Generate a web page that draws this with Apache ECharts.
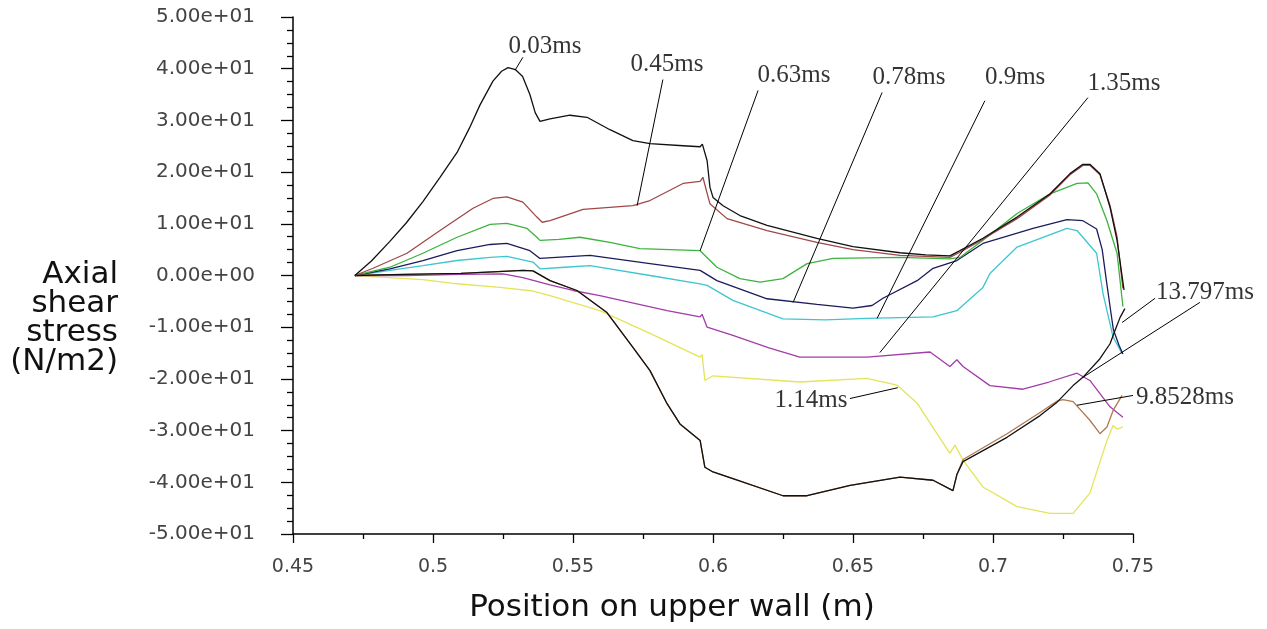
<!DOCTYPE html>
<html><head><meta charset="utf-8">
<script src="https://cdn.jsdelivr.net/npm/echarts@6/dist/echarts.min.js"></script>
<style>html,body{margin:0;background:#fff}#c{width:1267px;height:629px}</style>
</head><body><div id="c"></div>
<script>
// ---- data (x in m, y in N/m2) ----
const s003 = [[0.4721,0],[0.4780,2.8],[0.4846,6.6],[0.4905,10.2],[0.4964,14.3],[0.5025,19.0],[0.5086,23.8],[0.5130,28.5],[0.5168,33.0],[0.5214,37.6],[0.5245,39.5],[0.5268,40.2],[0.5295,39.8],[0.5320,38.5],[0.5346,35.0],[0.5365,31.5],[0.5382,29.8],[0.5418,30.3],[0.5489,31.0],[0.5550,30.6],[0.5632,28.2],[0.5714,26.1],[0.5775,25.5],[0.5893,25.1],[0.5954,24.9],[0.5962,25.4],[0.5979,22.2],[0.5989,17.1],[0.6000,15.1],[0.6036,13.5],[0.6096,11.6],[0.6193,9.7],[0.6371,7.2],[0.6500,5.6],[0.6668,4.4],[0.6760,4.0],[0.6846,3.8],[0.6882,4.8],[0.6964,7.2],[0.7086,11.3],[0.7204,15.8],[0.7275,19.7],[0.7321,21.5],[0.7346,21.5],[0.7382,19.7],[0.7418,13.2],[0.7443,6.8],[0.7468,-2.8]];
const s045 = [[0.4721,0],[0.4786,1.4],[0.4907,4.3],[0.5025,8.7],[0.5143,13.0],[0.5214,14.9],[0.5264,15.2],[0.5321,14.2],[0.5371,11.3],[0.5390,10.3],[0.5418,10.6],[0.5536,12.8],[0.5714,13.5],[0.5775,14.5],[0.5893,17.8],[0.5954,18.2],[0.5964,19.0],[0.5979,15.9],[0.5989,13.9],[0.6050,11.0],[0.6193,8.7],[0.6371,6.4],[0.6500,5.0],[0.6668,3.9],[0.6846,3.5],[0.6882,4.5],[0.6964,7.0],[0.7086,11.0],[0.7204,15.6],[0.7275,19.5],[0.7321,21.3],[0.7346,21.3],[0.7382,19.5],[0.7418,13.5],[0.7443,7.5],[0.7464,-2.5]];
const s063 = [[0.4721,0],[0.4846,1.6],[0.4964,4.3],[0.5086,7.4],[0.5204,9.9],[0.5264,10.1],[0.5336,9.1],[0.5371,7.4],[0.5382,6.8],[0.5450,7.0],[0.5525,7.4],[0.5632,6.4],[0.5739,5.2],[0.5954,4.8],[0.6014,1.6],[0.6096,-0.6],[0.6168,-1.3],[0.6250,-0.6],[0.6336,2.3],[0.6429,3.3],[0.6668,3.5],[0.6846,3.2],[0.6882,3.5],[0.6964,6.8],[0.7086,12.0],[0.7204,15.8],[0.7300,17.8],[0.7339,17.9],[0.7370,15.8],[0.7407,10.6],[0.7443,4.3],[0.7464,-6.0]];
const s078 = [[0.4721,0],[0.4846,1.3],[0.4964,2.9],[0.5086,4.8],[0.5204,6.0],[0.5264,6.2],[0.5346,4.8],[0.5382,3.3],[0.5470,3.6],[0.5561,3.9],[0.5775,2.3],[0.5954,1.0],[0.6014,-1.0],[0.6193,-4.5],[0.6371,-5.6],[0.6500,-6.3],[0.6568,-5.8],[0.6607,-4.4],[0.6729,-1.0],[0.6786,1.4],[0.6871,2.9],[0.6964,6.2],[0.7143,9.1],[0.7264,10.8],[0.7321,10.6],[0.7370,9.0],[0.7390,5.0],[0.7405,-1.0],[0.7418,-6.0],[0.7430,-10.5],[0.7450,-13.5],[0.7464,-15.2]];
const s090 = [[0.4721,0],[0.4846,1.0],[0.4964,1.9],[0.5086,2.9],[0.5204,3.5],[0.5264,3.7],[0.5357,2.6],[0.5382,1.3],[0.5470,1.6],[0.5561,1.9],[0.5775,0],[0.5954,-1.6],[0.5979,-1.9],[0.6071,-4.8],[0.6250,-8.4],[0.6400,-8.6],[0.6550,-8.3],[0.6786,-8.0],[0.6871,-6.8],[0.6964,-2.3],[0.6989,0.4],[0.7086,5.5],[0.7264,9.1],[0.7300,8.7],[0.7370,4.3],[0.7393,-3.5],[0.7407,-6.8],[0.7429,-11.9],[0.7461,-15.1]];
const s135 = [[0.4721,0],[0.4900,0],[0.5100,0.2],[0.5250,0.3],[0.5321,-0.4],[0.5418,-1.8],[0.5500,-2.9],[0.5596,-3.9],[0.5836,-6.8],[0.5954,-8.0],[0.5961,-7.5],[0.5979,-10.0],[0.6071,-11.6],[0.6200,-14.0],[0.6310,-15.8],[0.6550,-15.8],[0.6775,-14.8],[0.6846,-17.6],[0.6871,-16.3],[0.6893,-17.6],[0.6989,-21.3],[0.7107,-22.0],[0.7200,-20.6],[0.7300,-18.9],[0.7346,-20.3],[0.7418,-25.4],[0.7464,-27.4]];
const s114 = [[0.4721,0],[0.4811,-0.3],[0.4964,-0.8],[0.5086,-1.6],[0.5239,-2.3],[0.5357,-3.0],[0.5418,-3.9],[0.5596,-6.8],[0.5775,-11.2],[0.5954,-15.8],[0.5961,-15.3],[0.5971,-20.3],[0.6000,-19.4],[0.6310,-20.6],[0.6550,-19.9],[0.6657,-21.2],[0.6729,-24.7],[0.6846,-34.4],[0.6864,-32.8],[0.6893,-35.7],[0.6964,-40.9],[0.7086,-44.7],[0.7204,-46.0],[0.7286,-46.0],[0.7346,-42.1],[0.7407,-31.9],[0.7429,-29.0],[0.7443,-29.7],[0.7464,-29.3]];
const s98528 = [[0.4721,0],[0.4900,0.2],[0.5100,0.4],[0.5250,0.8],[0.5321,1.0],[0.5357,0.9],[0.5418,-1.0],[0.5514,-2.9],[0.5620,-7.1],[0.5714,-13.9],[0.5775,-18.4],[0.5836,-24.8],[0.5882,-28.7],[0.5954,-31.9],[0.5971,-37.1],[0.6000,-38.0],[0.6071,-39.3],[0.6250,-42.6],[0.6336,-42.6],[0.6490,-40.6],[0.6668,-39.0],[0.6786,-39.6],[0.6857,-41.6],[0.6871,-38.5],[0.6893,-35.6],[0.7050,-30.6],[0.7168,-26.5],[0.7229,-24.3],[0.7250,-24.0],[0.7286,-24.4],[0.7346,-28.0],[0.7382,-30.6],[0.7407,-29.3],[0.7429,-26.1],[0.7461,-23.2]];
const s13797 = [[0.4721,0],[0.4900,0.2],[0.5100,0.4],[0.5250,0.8],[0.5321,1.0],[0.5357,0.9],[0.5418,-1.0],[0.5514,-2.9],[0.5620,-7.1],[0.5714,-13.9],[0.5775,-18.4],[0.5836,-24.8],[0.5882,-28.7],[0.5954,-31.9],[0.5971,-37.1],[0.6000,-38.0],[0.6071,-39.3],[0.6250,-42.6],[0.6336,-42.6],[0.6490,-40.6],[0.6668,-39.0],[0.6786,-39.6],[0.6857,-41.6],[0.6871,-38.5],[0.6893,-36.0],[0.7050,-31.3],[0.7168,-27.1],[0.7229,-24.5],[0.7286,-21.3],[0.7321,-19.7],[0.7382,-16.1],[0.7418,-13.2],[0.7436,-10.6],[0.7454,-8.1],[0.7471,-6.4]];

// annotation labels and pointer lines (data coordinates)
const annNames = ['0.03ms','0.45ms','0.63ms','0.78ms','0.9ms','1.35ms','1.14ms','9.8528ms','13.797ms'];
const annPos = [[0.5400,44.3],[0.5836,40.8],[0.6289,38.7],[0.6700,38.3],[0.7079,38.3],[0.7468,37.1],[0.6350,-24.2],[0.7686,-23.6],[0.7757,-3.3]];
const pointers = [
  [[0.5321,42.2],[0.5293,39.7]],
  [[0.5821,37.9],[0.5729,13.5]],
  [[0.6161,35.8],[0.5954,4.8]],
  [[0.6604,35.4],[0.6286,-5.2]],
  [[0.6971,33.8],[0.6586,-8.3]],
  [[0.7339,34.4],[0.6596,-14.9]],
  [[0.6489,-23.8],[0.6660,-21.7]],
  [[0.7500,-23.2],[0.7300,-25.1]],
  [[0.7579,-4.4],[0.7461,-9.1]],
  [[0.7739,-5.2],[0.7321,-19.7]]
];

const seriesDefs = [
  ['1.14ms', s114, '#e4e45a'],
  ['1.35ms', s135, '#a23ca8'],
  ['0.9ms', s090, '#3cc6d0'],
  ['0.78ms', s078, '#1c1c5c'],
  ['0.63ms', s063, '#3cb43c'],
  ['9.8528ms', s98528, '#b07850'],
  ['13.797ms', s13797, '#111111'],
  ['0.45ms', s045, '#a04848'],
  ['0.03ms', s003, '#111111']
];

function fmtExp(v){
  const s = Number(v).toExponential(2);
  return s.replace(/e([+-])(\d+)$/, function(m, sg, d){ return 'e' + sg + (d.length < 2 ? '0' + d : d); });
}

const chart = echarts.init(document.getElementById('c'), null, {renderer:'canvas'});
const series = seriesDefs.map(function(d){
  return {type:'line', name:d[0], data:d[1], showSymbol:false, symbol:'none', smooth:false,
    lineStyle:{color:d[2], width:1.3}, itemStyle:{color:d[2]}, z:2, animation:false};
});
series.push({
  type:'lines', coordinateSystem:'cartesian2d', clip:false, z:3, animation:false,
  lineStyle:{color:'#000', width:1, opacity:1},
  data: pointers.map(function(p){ return {coords:p}; })
});
series.push({
  type:'scatter', clip:false, symbolSize:0, z:4, animation:false,
  data: annNames.map(function(n,i){ return {name:n, value:annPos[i]}; }),
  label:{show:true, position:'inside', formatter:'{b}', color:'#000',
    fontFamily:'Liberation Serif', fontSize:25}
});

chart.setOption({
  backgroundColor:'#fff',
  animation:false,
  grid:{left:293, right:134, top:17, bottom:95, containLabel:false},
  xAxis:{type:'value', min:0.45, max:0.75, interval:0.05,
    axisLine:{show:true, onZero:false, lineStyle:{color:'#000', width:1.5}},
    axisTick:{show:true, inside:false, length:9, lineStyle:{color:'#000', width:1.3}},
    minorTick:{show:true, splitNumber:2, length:5, lineStyle:{color:'#000', width:1.3}},
    splitLine:{show:false}, minorSplitLine:{show:false},
    axisLabel:{margin:24, fontFamily:'DejaVu Sans', fontSize:19, color:'#444',
      formatter:function(v){ return String(+v.toFixed(2)); }}
  },
  yAxis:{type:'value', min:-50, max:50, interval:10,
    axisLine:{show:true, onZero:false, lineStyle:{color:'#000', width:1.5}},
    axisTick:{show:true, inside:false, length:12, lineStyle:{color:'#000', width:1.3}},
    minorTick:{show:true, splitNumber:4, length:6, lineStyle:{color:'#000', width:1.3}},
    splitLine:{show:false}, minorSplitLine:{show:false},
    axisLabel:{margin:38, fontFamily:'DejaVu Sans', fontSize:20, color:'#444', formatter:fmtExp}
  },
  graphic:[
    {type:'text', x:118, y:318, style:{text:'Axial\nshear\nstress\n(N/m2)',
      align:'right', verticalAlign:'middle', font:'31px "DejaVu Sans"', lineHeight:29, fill:'#111'}},
    {type:'text', x:672, y:608, style:{text:'Position on upper wall (m)', align:'center', verticalAlign:'middle',
      font:'31px "DejaVu Sans"', fill:'#111'}}
  ],
  series:series
});
</script>
</body></html>
